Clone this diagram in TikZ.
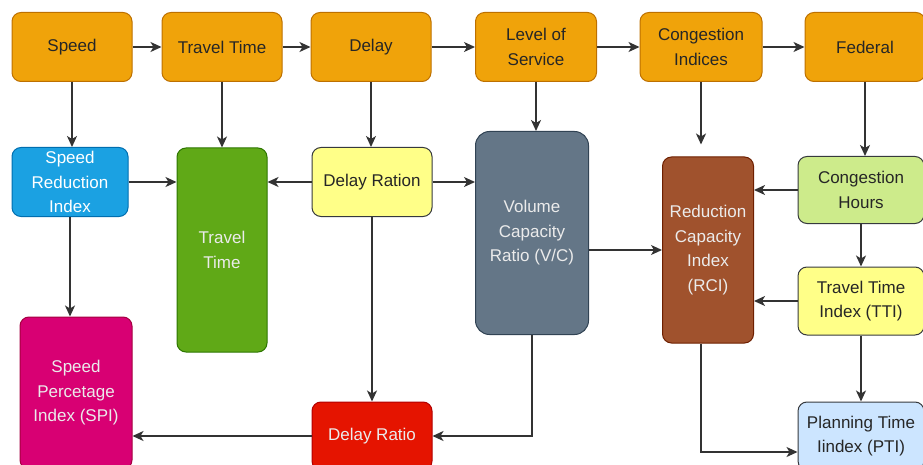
\documentclass[tikz,border=0pt]{standalone}
\usepackage{fontspec}
\setmainfont{Liberation Sans}
\usetikzlibrary{arrows.meta}

\definecolor{orangefill}{HTML}{F0A30A}
\definecolor{orangeline}{HTML}{BD7000}
\definecolor{bluefill}{HTML}{1BA1E2}
\definecolor{blueline}{HTML}{006EAF}
\definecolor{greenfill}{HTML}{60A917}
\definecolor{greenline}{HTML}{2D7600}
\definecolor{yellowfill}{HTML}{FFFF88}
\definecolor{slatefill}{HTML}{647687}
\definecolor{slateline}{HTML}{314354}
\definecolor{brownfill}{HTML}{A0522D}
\definecolor{brownline}{HTML}{6D1F00}
\definecolor{limefill}{HTML}{CDEB8B}
\definecolor{skyfill}{HTML}{CCE5FF}
\definecolor{magentafill}{HTML}{D80073}
\definecolor{magentaline}{HTML}{A50040}
\definecolor{redfill}{HTML}{E51400}
\definecolor{redline}{HTML}{B20000}
\definecolor{darkline}{HTML}{36393D}

\tikzset{
  box/.style={rounded corners=9pt, line width=1pt, inner sep=0pt, align=center,
    font=\fontsize{17}{24.5}\selectfont},
  measure/.style={fill=orangefill, draw=orangeline, text=black!85,
    minimum width=120pt, minimum height=69pt},
  link/.style={-{Stealth[length=11pt,width=10pt,inset=3pt]}, line width=1.5pt, black!80}
}

\begin{document}
\begin{tikzpicture}[x=1pt,y=-1pt]
\clip (0,0) rectangle (923,465);

% top row of measures
\node [box,measure] (speed) at (72,47) {Speed};
\node [box,measure] (ttime) at (222,47) {Travel Time};
\node [box,measure] (delay) at (371,47) {Delay};
\node [box,measure,minimum width=121pt] (los) at (536,47) {Level of\\Service};
\node [box,measure,minimum width=122pt] (cind) at (701,47) {Congestion\\Indices};
\node [box,measure] (fed) at (865,47) {Federal};

% indices
\node [box,fill=bluefill,draw=blueline,text=white,minimum width=116pt,minimum height=69pt]
  (sri) at (70,182) {Speed\\Reduction\\Index};
\node [box,fill=greenfill,draw=greenline,text=white!92!black,minimum width=90pt,minimum height=204pt]
  (tt) at (222,250) {Travel\\Time};
\node [box,fill=yellowfill,draw=darkline,text=black!85,minimum width=120pt,minimum height=69pt]
  (drn) at (372,182) {Delay Ration};
\node [box,rounded corners=14pt,fill=slatefill,draw=slateline,text=white!92!black,minimum width=113pt,minimum height=203pt]
  (vc) at (532,233) {Volume\\Capacity\\Ratio (V/C)};
\node [box,fill=brownfill,draw=brownline,text=white!92!black,minimum width=91pt,minimum height=186pt]
  (rci) at (708,250) {Reduction\\Capacity\\Index\\(RCI)};
\node [box,fill=limefill,draw=darkline,text=black!85,minimum width=126pt,minimum height=67pt]
  (ch) at (861,190) {Congestion\\Hours};
\node [box,fill=yellowfill,draw=darkline,text=black!85,minimum width=126pt,minimum height=68pt]
  (tti) at (861,301) {Travel Time\\Index (TTI)};
\node [box,fill=skyfill,draw=darkline,text=black!85,minimum width=126pt,minimum height=68pt]
  (pti) at (861,436) {Planning Time\\Iindex (PTI)};
\node [box,fill=magentafill,draw=magentaline,text=white!92!black,minimum width=112pt,minimum height=152pt]
  (spi) at (76,393) {Speed\\Percetage\\Index (SPI)};
\node [box,fill=redfill,draw=redline,text=white!92!black,minimum width=120pt,minimum height=68pt]
  (dr) at (372,436) {Delay Ratio};

% along the top
\draw [link] (speed) -- (ttime);
\draw [link] (ttime) -- (delay);
\draw [link] (delay) -- (los);
\draw [link] (los) -- (cind);
\draw [link] (cind) -- (fed);

% down from the top row
\draw [link] (speed.south) -- (speed.south |- sri.north);
\draw [link] (ttime) -- (tt);
\draw [link] (delay.south) -- (delay.south |- drn.north);
\draw [link] (los.south) -- (los.south |- vc.north);
\draw [link,shorten >=12pt] (cind.south) -- (cind.south |- rci.north);
\draw [link] (fed.south) -- (fed.south |- ch.north);

% middle
\draw [link] (sri.east) -- (sri.east -| tt.west);
\draw [link] (drn.west) -- (drn.west -| tt.east);
\draw [link] (drn.east) -- (drn.east -| vc.west);
\draw [link] (vc.east |- rci.west) -- (rci.west);
\draw [link] (ch.west) -- (ch.west -| rci.east);
\draw [link] (tti.west) -- (tti.west -| rci.east);
\draw [link] (ch) -- (tti);
\draw [link] (tti) -- (pti);

% bottom
\draw [link] (sri.south) -- (sri.south |- spi.north);
\draw [link] (drn.south) -- (dr.north);
\draw [link] (dr.west) -- (dr.west -| spi.east);
\draw [link] (vc.south) |- (dr.east);
\draw [link] ([xshift=-7pt]rci.south) |- ([yshift=-16pt]pti.west);
\end{tikzpicture}
\end{document}
